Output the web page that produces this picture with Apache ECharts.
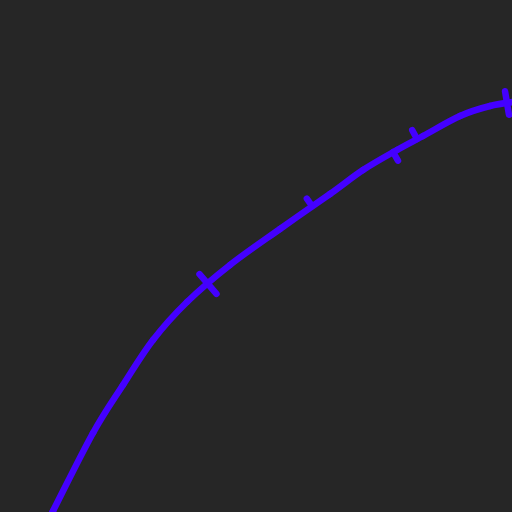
<!DOCTYPE html>
<html>
<head>
<meta charset="utf-8">
<script src="https://cdn.jsdelivr.net/npm/echarts@6/dist/echarts.min.js"></script>
<style>html,body{margin:0;padding:0;background:#262626;}#c{width:512px;height:512px;}</style>
</head>
<body>
<div id="c"></div>
<script>
// Curve samples (x, y in picture units, y grows downward)
const curveX = [45, 53, 93, 123, 153, 187, 230, 280, 330, 363, 397, 423, 460, 490, 520];
const curveY = [527, 511, 433, 385, 340, 302, 265, 229, 194, 170, 150, 136, 116, 106, 101];
// Tick marks along the curve
const markX = [208, 312, 393, 417, 507];
const markY = [284, 206, 152, 139, 103];
const markUp = [13, 9, 0, 10, 12];
const markDown = [13, 0, 10, 0, 12];

function interpY(x) {
  for (let i = 0; i < curveX.length - 1; i++) {
    if (x >= curveX[i] && x <= curveX[i + 1]) {
      const t = (x - curveX[i]) / (curveX[i + 1] - curveX[i]);
      return curveY[i] + t * (curveY[i + 1] - curveY[i]);
    }
  }
  return curveY[curveY.length - 1];
}

const lineColor = '#4400ff';
const N = curveX.length;
const chart = echarts.init(document.getElementById('c'));
chart.setOption({
  backgroundColor: '#262626',
  animation: false,
  grid: { left: 0, right: 0, top: 0, bottom: 0 },
  xAxis: { type: 'value', min: 0, max: 512, show: false },
  yAxis: { type: 'value', min: 0, max: 512, inverse: true, show: false },
  series: [
    {
      // smooth curve: one Catmull-Rom segment per data point pair
      type: 'custom',
      clip: true,
      data: curveX.slice(0, N - 1).map((x, i) => [x, curveY[i], i]),
      renderItem: function (params, api) {
        const i = api.value(2);
        const P = k => {
          const j = Math.max(0, Math.min(N - 1, k));
          return api.coord([curveX[j], curveY[j]]);
        };
        const p0 = P(i - 1), p1 = P(i), p2 = P(i + 1), p3 = P(i + 2);
        return {
          type: 'bezierCurve',
          shape: {
            x1: p1[0], y1: p1[1], x2: p2[0], y2: p2[1],
            cpx1: p1[0] + (p2[0] - p0[0]) / 6, cpy1: p1[1] + (p2[1] - p0[1]) / 6,
            cpx2: p2[0] - (p3[0] - p1[0]) / 6, cpy2: p2[1] - (p3[1] - p1[1]) / 6
          },
          style: { stroke: lineColor, lineWidth: 6.5, fill: null, lineCap: 'round' }
        };
      }
    },
    {
      type: 'custom',
      clip: true,
      data: markX.map((x, i) => [x, markY[i], markUp[i], markDown[i]]),
      renderItem: function (params, api) {
        const x = api.value(0), y = api.value(1);
        const up = api.value(2), down = api.value(3);
        const p = api.coord([x, y]);
        const a = api.coord([x - 15, interpY(x - 15)]);
        const b = api.coord([x + 10, interpY(Math.min(x + 10, 520))]);
        let dx = b[0] - a[0], dy = b[1] - a[1];
        const L = Math.hypot(dx, dy) || 1;
        dx /= L; dy /= L;
        let nx = dy, ny = -dx;
        if (ny > 0) { nx = -nx; ny = -ny; }
        const s = api.size([1, 1])[0];
        return {
          type: 'line',
          shape: {
            x1: p[0] + nx * up * s, y1: p[1] + ny * up * s,
            x2: p[0] - nx * down * s, y2: p[1] - ny * down * s
          },
          style: { stroke: lineColor, lineWidth: 6.5, lineCap: 'round' }
        };
      }
    }
  ]
});
</script>
</body>
</html>
